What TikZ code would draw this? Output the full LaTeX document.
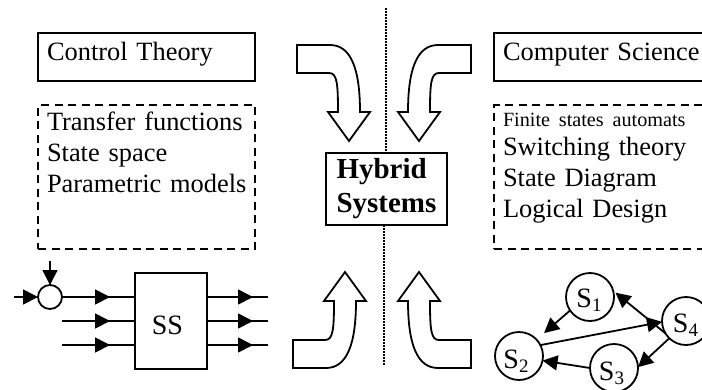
\documentclass[tikz,border=0pt]{standalone}
\usepackage{fontspec}
\setmainfont{Liberation Serif}
\usetikzlibrary{positioning,arrows.meta,decorations.markings}

\newcommand{\subNum}[1]{\raisebox{-4pt}{\fontsize{19}{19}\selectfont #1}}

\begin{document}
\begin{tikzpicture}[x=1pt,y=-1pt,line width=1.8pt]
\tikzset{
    titleBox/.style={rectangle, draw, anchor=north west, outer sep=0pt, text width=199pt, inner xsep=9pt, inner ysep=4pt, text height=23pt, text depth=17pt, align=left, font=\fontsize{26.4}{31}\selectfont},
    listBox/.style={rectangle, draw, dash pattern=on 8pt off 5.5pt, outer sep=0pt, text width=199pt, inner xsep=9pt, inner ysep=4pt, text height=21.5pt, text depth=114.5pt, align=left, font=\fontsize{26.4}{31}\selectfont},
    wideBox/.style={text width=230pt},
    hybridStyle/.style={rectangle, draw, outer sep=0pt, minimum width=121pt, minimum height=72pt, inner sep=0pt, align=left, font=\fontsize{29}{34}\selectfont\bfseries},
    blockStyle/.style={rectangle, draw, outer sep=0pt, minimum width=72pt, minimum height=96pt},
    sumStyle/.style={circle, draw, outer sep=0pt, minimum size=24pt, inner sep=0pt},
    stateStyle/.style={circle, draw, outer sep=0pt, minimum size=48pt, inner sep=0pt},
    labelStyle/.style={anchor=base, inner sep=0pt, font=\fontsize{28}{31}\selectfont},
    stateArrow/.style={-{Triangle[length=15pt,width=15pt]}},
    dotLine/.style={line width=1.3pt, dash pattern=on 1.5pt off 1.5pt},
    signalLine/.style={postaction={decorate}, decoration={markings, mark=at position #1 with {\arrow{Triangle[length=15pt,width=15pt]}}}},
    bentArrow/.pic={
        \draw[miter limit=10] (0,0) -- (21,-29) -- (11,-29) .. controls (11,-58) and (12,-68) .. (20,-68) -- (52,-68) -- (52,-96) -- (19,-96) .. controls (-2,-96) and (-11,-72) .. (-11,-29) -- (-21,-29) -- cycle;
    }
}

\clip (0,0) rectangle (702,389);
\useasboundingbox (0,0) rectangle (702,389);

% left column
\node[titleBox] (control) at (38,33) {Control Theory};
\node[listBox, below=24pt of control] (controlList) {Transfer functions\\State space\\\mbox{Parametric models}};

% right column
\node[titleBox, wideBox] (computer) at (494,33) {Computer Science};
\node[listBox, wideBox, below=24pt of computer, text height=17pt, text depth=119pt] (computerList) {{\fontsize{20.2}{20}\selectfont Finite states automats}\\[-2pt]Switching theory\\State Diagram\\Logical Design};

% middle
\node[hybridStyle] (hybrid) at (386.5,189) {Hybrid\\Systems};
\coordinate (dotTop) at (386,8);
\coordinate (dotBottom) at (384,366);
\draw[dotLine] (dotTop) -- (dotTop |- hybrid.north);
\draw[dotLine] (dotBottom |- hybrid.south) -- (dotBottom);

\pic[xscale=-1] at (349,141) {bentArrow};
\pic at (419,141) {bentArrow};
\pic[xscale=-1,yscale=-1] at (345,272) {bentArrow};
\pic[yscale=-1] at (419,272) {bentArrow};

% block with its signals
\node[sumStyle] (sum) at (50,297) {};
\node[blockStyle] (block) at (171,321) {};
\node[labelStyle] (blockLabel) at (167.5,334) {SS};
\coordinate (sumLeft) at (14,297);
\coordinate (sumTop) at (50,261);
\coordinate (inB) at (62,321);
\coordinate (inC) at (62,345);
\coordinate (outA) at (268,297);
\coordinate (outB) at (268,321);
\coordinate (outC) at (268,345);

\draw[stateArrow] (sumLeft) -- (sum);
\draw[stateArrow] (sumTop) -- (sum);
\draw[signalLine=48pt] (sum.east) -- (sum -| block.west);
\draw[signalLine=48pt] (inB) -- (block.west);
\draw[signalLine=48pt] (inC) -- (inC -| block.west);
\draw[signalLine=46pt] (outA -| block.east) -- (outA);
\draw[signalLine=46pt] (block.east) -- (outB);
\draw[signalLine=46pt] (outC -| block.east) -- (outC);

% states
\node[stateStyle] (s1) at (590,297) {};
\node[stateStyle] (s2) at (519,356) {};
\node[stateStyle] (s3) at (614,368) {};
\node[stateStyle] (s4) at (686,321) {};
\node[labelStyle] (s1Label) at (589,307) {S\subNum{1}};
\node[labelStyle] (s2Label) at (516,368) {S\subNum{2}};
\node[labelStyle] (s3Label) at (611.5,380) {S\subNum{3}};
\node[labelStyle] (s4Label) at (685.5,332) {S\subNum{4}};

\draw[stateArrow, shorten >=10pt] (s1.214) -- (s2.43);
\draw[stateArrow, shorten >=3pt] (s4.211) -- (s1.15);
\draw[stateArrow] (s2.27) -- (s4.182);
\draw[stateArrow] (s4.226) -- (s3.2);
\draw[stateArrow] (s3.180) -- (s2.349);

\end{tikzpicture}
\end{document}
